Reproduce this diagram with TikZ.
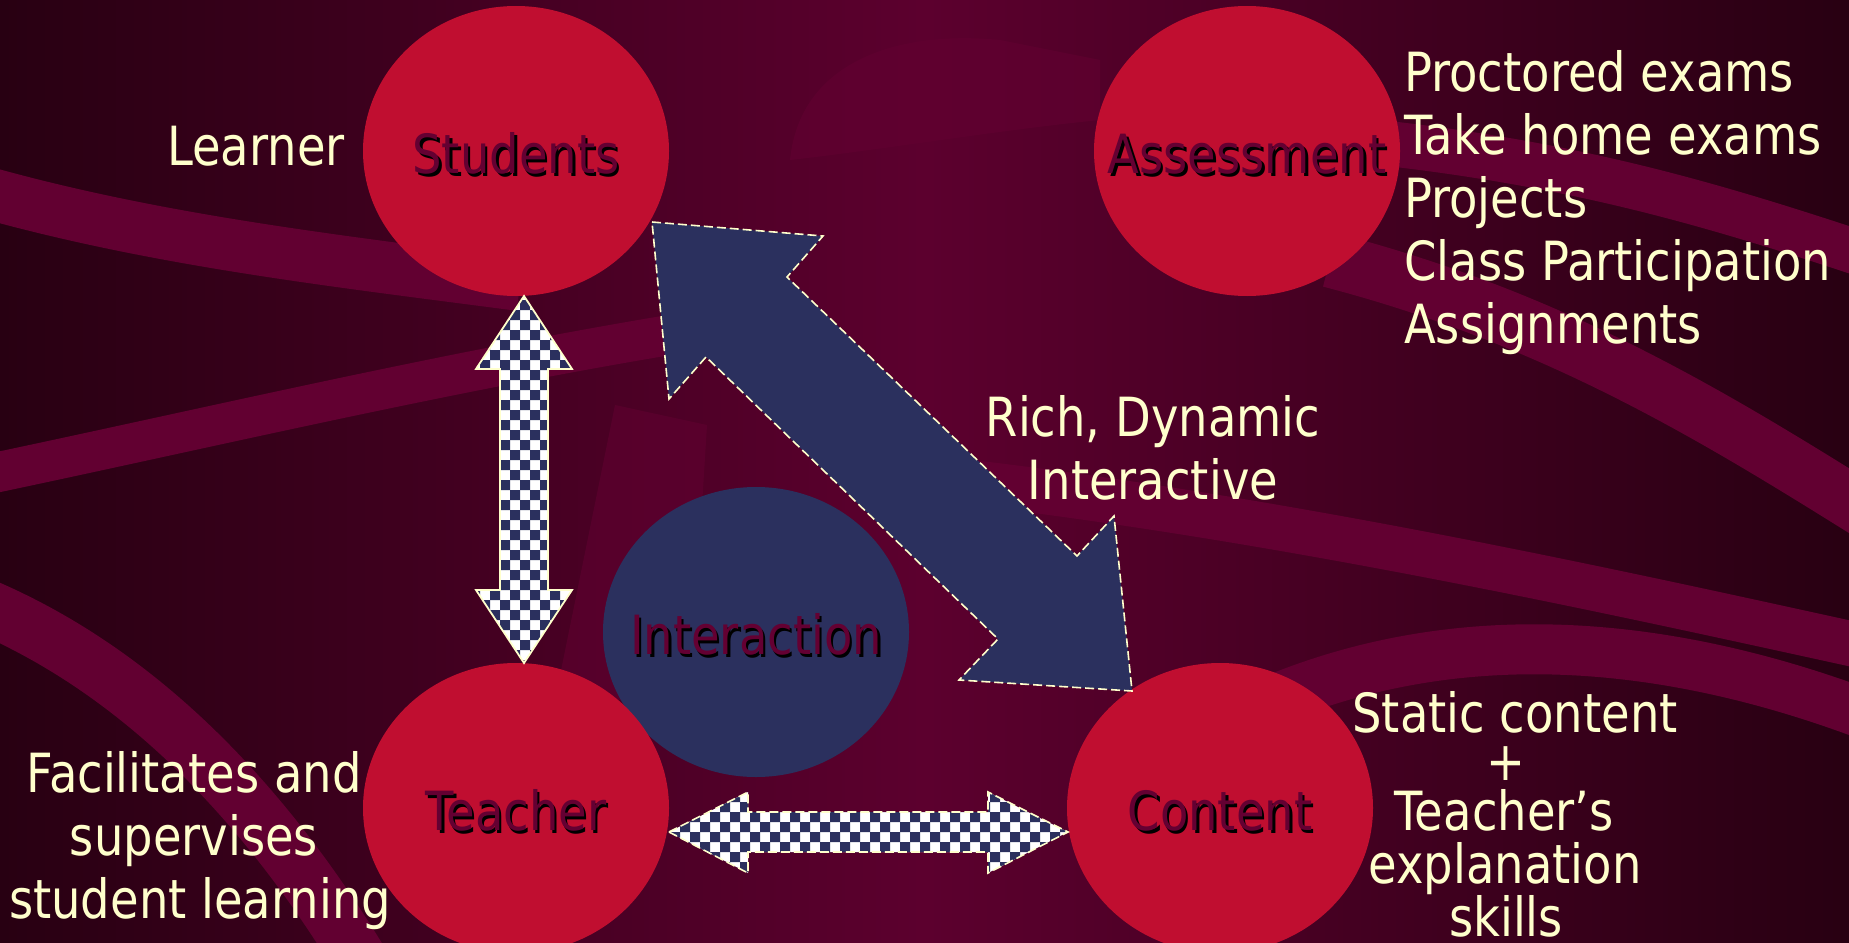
\documentclass[tikz,border=0pt]{standalone}
\usepackage{fontspec}
\setmainfont{DejaVu Sans}[FakeStretch=0.86]
\usetikzlibrary{shapes.geometric}
\definecolor{bgdark}{RGB}{40,0,18}
\definecolor{bgmid}{RGB}{92,0,46}
\definecolor{bandc}{RGB}{98,0,49}
\definecolor{redc}{RGB}{192,14,48}
\definecolor{navy}{RGB}{43,48,94}
\definecolor{cream}{RGB}{255,255,204}
\definecolor{ctxt}{RGB}{100,0,50}
\tikzset{
  ell/.style={ellipse, minimum width=306pt, minimum height=290pt, inner sep=0pt, draw=none},
  redell/.style={ell, fill=redc},
  navell/.style={ell, fill=navy},
  ctext/.style={text=ctxt, anchor=base, inner sep=0pt, font=\fontsize{54}{63}\selectfont},
  cshadow/.style={ctext, text=black},
  lbl/.style={text=cream, inner sep=0pt, font=\fontsize{54}{63}\selectfont},
  lblc/.style={lbl, anchor=base},
  lbll/.style={lbl, anchor=base west},
  bandst/.style={draw=bandc, line cap=butt},
  dashline/.style={draw=cream, line width=1.6pt, dash pattern=on 9pt off 4pt},
  solidline/.style={draw=cream, line width=1.8pt, line join=miter},
}
\newcommand\circtext[3]{%
  \node[cshadow] (#3s) at ([shift={(2.5pt,-25pt)}]#1.center) {#2};
  \node[ctext] (#3t) at ([yshift=-22.5pt]#1.center) {#2};}
\begin{document}
\begin{tikzpicture}[x=1pt,y=-1pt]
\useasboundingbox (0,0) rectangle (1849,942);
\clip (0,0) rectangle (1849,942);
% background
\shade[left color=bgdark, right color=bgdark, middle color=bgmid] (0,0) rectangle (1849,942);
\path[bandst, line width=52] (-30,188) .. controls (150,240) and (330,260) .. (520,285);
\path[bandst, line width=40] (-30,478) .. controls (200,430) and (450,370) .. (700,330);
\path[bandst, line width=55] (-30,600) .. controls (120,660) and (250,780) .. (360,960);
\path[bandst, line width=45] (1300,135) .. controls (1550,155) and (1700,200) .. (1880,260);
\path[bandst, line width=55] (1330,260) .. controls (1560,320) and (1720,420) .. (1880,520);
\path[bandst, line width=50] (1210,730) .. controls (1450,600) and (1700,650) .. (1880,720);
\path[bandst, line width=45] (950,480) .. controls (1300,520) and (1650,600) .. (1880,650);
\fill[bandc, opacity=0.55] (615,405) -- (707,425) -- (690,700) -- (555,700) -- cycle;
\fill[bandc, opacity=0.6] (790,160) .. controls (800,60) and (900,30) .. (1000,40) -- (1100,60) -- (1100,120) .. controls (1000,130) and (880,150) .. cycle;
% ellipses
\node[navell] (int) at (756,632) {};
\node[redell] (stu) at (516,151) {};
\node[redell] (ass) at (1247,151) {};
\node[redell] (tea) at (516,808) {};
\node[redell] (con) at (1220,808) {};
\circtext{stu}{Students}{stux}
\circtext{ass}{Assessment}{assx}
\circtext{int}{Interaction}{intx}
\circtext{tea}{Teacher}{teax}
\circtext{con}{Content}{conx}
% big navy double arrow Students <-> Content
\coordinate (b1) at (652,222);
\coordinate (b2) at (823,236);
\coordinate (b3) at (787,277);
\coordinate (b4) at (1077,556);
\coordinate (b5) at (1114,516);
\coordinate (b6) at (1132,691);
\coordinate (b7) at (959,680);
\coordinate (b8) at (998,639);
\coordinate (b9) at (706,357);
\coordinate (b10) at (669,399);
\path[fill=navy, dashline] (b1) -- (b2) -- (b3) -- (b4) -- (b5) -- (b6) -- (b7) -- (b8) -- (b9) -- (b10) -- cycle;
% vertical checkered arrow Students <-> Teacher
\coordinate (v1) at (524,296);
\coordinate (v2) at (572,369);
\coordinate (v3) at (548,369);
\coordinate (v4) at (548,590);
\coordinate (v5) at (572,590);
\coordinate (v6) at (524,663);
\coordinate (v7) at (476,590);
\coordinate (v8) at (500,590);
\coordinate (v9) at (500,369);
\coordinate (v10) at (476,369);
\begin{scope}
  \clip (v1) -- (v2) -- (v3) -- (v4) -- (v5) -- (v6) -- (v7) -- (v8) -- (v9) -- (v10) -- cycle;
  \fill[white] (460,280) rectangle (590,680);
  \foreach \x in {470,490,...,570}{\foreach \y in {290,310,...,670}{
    \fill[navy] (\x,\y) rectangle ++(10,10) (\x+10,\y+10) rectangle ++(10,10);}}
\end{scope}
\path[solidline] (v1) -- (v2) -- (v3) -- (v4) -- (v5) -- (v6) -- (v7) -- (v8) -- (v9) -- (v10) -- cycle;
% horizontal checkered arrow Teacher <-> Content
\coordinate (h1) at (669,832);
\coordinate (h2) at (748,792);
\coordinate (h3) at (748,812);
\coordinate (h4) at (988,812);
\coordinate (h5) at (988,792);
\coordinate (h6) at (1068,832);
\coordinate (h7) at (988,873);
\coordinate (h8) at (988,852);
\coordinate (h9) at (748,852);
\coordinate (h10) at (748,873);
\begin{scope}
  \clip (h1) -- (h2) -- (h3) -- (h4) -- (h5) -- (h6) -- (h7) -- (h8) -- (h9) -- (h10) -- cycle;
  \fill[white] (650,780) rectangle (1090,890);
  \foreach \x in {660,680,...,1080}{\foreach \y in {782,802,...,882}{
    \fill[navy] (\x,\y) rectangle ++(10,10) (\x+10,\y+10) rectangle ++(10,10);}}
\end{scope}
\path[dashline] (h1) -- (h2) -- (h3) -- (h4) -- (h5) -- (h6) -- (h7) -- (h8) -- (h9) -- (h10) -- cycle;
% labels
\node[lblc] (lrn) at (256,165) {Learner};
\node[lbll] (a1) at (1404,91) {Proctored exams};
\node[lbll] (a2) at (1404,154) {Take home exams};
\node[lbll] (a3) at (1404,217) {Projects};
\node[lbll] (a4) at (1404,280) {Class Participation};
\node[lbll] (a5) at (1404,343) {Assignments};
\node[lblc] (r1) at (1153,436) {Rich, Dynamic};
\node[lblc] (r2) at (1153,499) {Interactive};
\node[lblc] (f1) at (194,792) {Facilitates and};
\node[lblc] (f2) at (194,855) {supervises};
\node[lblc] (f3) at (200,918) {student learning};
\node[lblc] (s1) at (1515,732) {Static content};
\node[lblc] (s2) at (1506,780) {+};
\node[lblc] (s3) at (1504,830) {Teacher’s};
\node[lblc] (s4) at (1505,883) {explanation};
\node[lblc] (s5) at (1506,936) {skills};
\end{tikzpicture}
\end{document}
